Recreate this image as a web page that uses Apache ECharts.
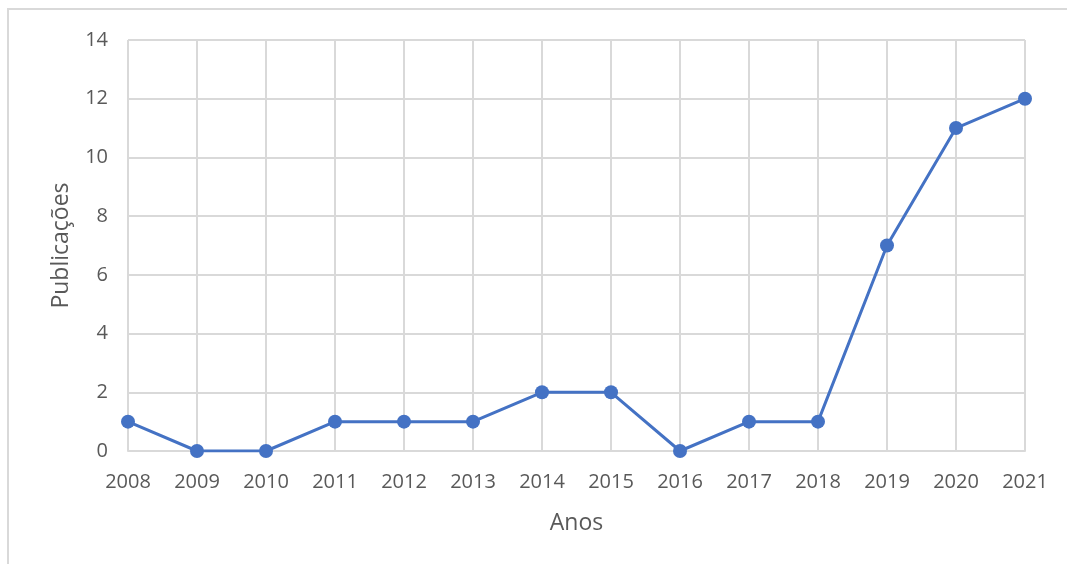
<!DOCTYPE html>
<html>
<head>
<meta charset="utf-8">
<script src="https://cdn.jsdelivr.net/npm/echarts@6/dist/echarts.min.js"></script>
<style>
  html, body { margin: 0; padding: 0; background: #fff; }
  #main { width: 1067px; height: 564px; }
</style>
</head>
<body>
<div id="main"></div>
<script>
// dados
var anos = ['2008', '2009', '2010', '2011', '2012', '2013', '2014',
            '2015', '2016', '2017', '2018', '2019', '2020', '2021'];
var publicacoes = [1, 0, 0, 1, 1, 1, 2, 2, 0, 1, 1, 7, 11, 12];
var yMin = 0, yMax = 14, yStep = 2;

var myChart = echarts.init(document.getElementById('main'));

var fonte = 'Open Sans, Liberation Sans, sans-serif';

var option = {
  backgroundColor: '#fff',
  animation: false,
  graphic: [{
    type: 'rect',
    shape: { x: 8, y: 9, width: 1100, height: 600 },
    style: { fill: 'none', stroke: '#d9d9d9', lineWidth: 2 },
    silent: true
  }],
  grid: { left: 128, right: 42, top: 40, bottom: 113 },
  xAxis: {
    type: 'category',
    data: anos,
    boundaryGap: false,
    name: 'Anos',
    nameLocation: 'middle',
    nameGap: 61,
    nameTextStyle: { color: '#595959', fontSize: 23, fontFamily: fonte },
    axisLine: { show: true, lineStyle: { color: '#d9d9d9', width: 2 } },
    axisTick: { show: false },
    axisLabel: { color: '#595959', fontSize: 20, fontFamily: fonte, margin: 21 },
    splitLine: { show: true, lineStyle: { color: '#d9d9d9', width: 2 } }
  },
  yAxis: {
    type: 'value',
    min: yMin,
    max: yMax,
    interval: yStep,
    name: 'Publicações',
    nameLocation: 'middle',
    nameGap: 55,
    nameTextStyle: { color: '#595959', fontSize: 23, fontFamily: fonte },
    axisLine: { show: false },
    axisTick: { show: false },
    axisLabel: { color: '#595959', fontSize: 20, fontFamily: fonte, margin: 20 },
    splitLine: { show: true, lineStyle: { color: '#d9d9d9', width: 2 } }
  },
  series: [{
    name: 'Publicações',
    type: 'line',
    data: publicacoes,
    symbol: 'circle',
    symbolSize: 14,
    lineStyle: { color: '#4472C4', width: 3 },
    itemStyle: { color: '#4472C4' }
  }]
};

myChart.setOption(option);
</script>
</body>
</html>
